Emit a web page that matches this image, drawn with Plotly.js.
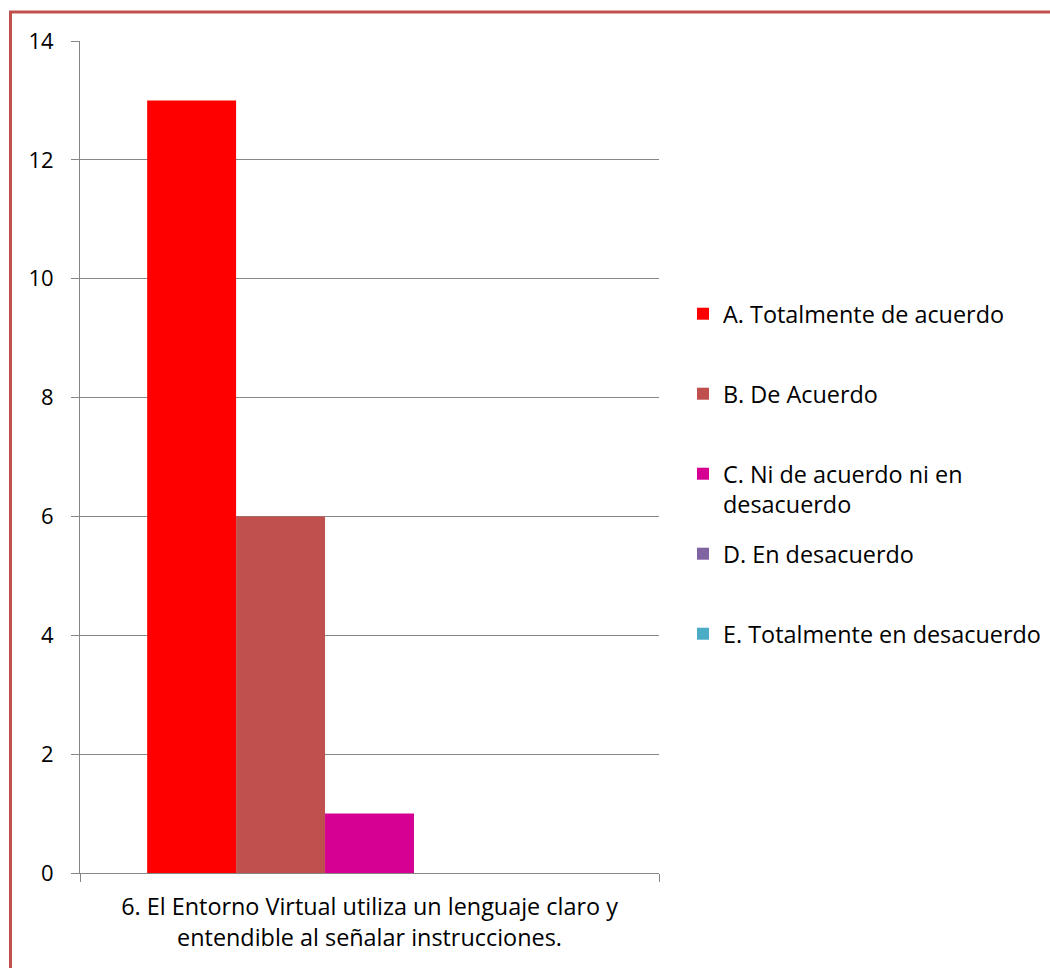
<!DOCTYPE html>
<html>
<head>
<meta charset="utf-8">
<script src="https://cdn.plot.ly/plotly-3.0.1.min.js"></script>
<style>html,body{margin:0;padding:0;background:#fff;}#chart{width:1050px;height:968px;}</style>
</head>
<body>
<div id="chart"></div>
<script>
const categories = ["6. El Entorno Virtual utiliza un lenguaje claro y<br>entendible al señalar instrucciones."];
const seriesNames = [
  "A. Totalmente de acuerdo",
  "B. De Acuerdo",
  "C. Ni de acuerdo ni en<br>desacuerdo",
  "D. En desacuerdo",
  "E. Totalmente en desacuerdo"
];
const seriesValues = [[13], [6], [1], [0], [0]];
const seriesColors = ["#FF0000", "#C0504D", "#D60093", "#8064A2", "#4BACC6"];
const yTicks = [0, 2, 4, 6, 8, 10, 12, 14];

const FONT = "'Open Sans', Lato, sans-serif";
const FS = 23.4;
const legendNames = ["legend", "legend2", "legend3", "legend4", "legend5"];
const legendCentersPx = [315, 395, 475, 555, 635];

const W = 1050, H = 968, L = 80, R = 391, T = 41, B = 95;
const plotW = W - L - R, plotH = H - T - B;

const traces = seriesNames.map((n, i) => ({
  type: "bar",
  name: n,
  x: categories,
  y: seriesValues[i],
  marker: {color: seriesColors[i]},
  legend: legendNames[i],
  hoverinfo: "name+y"
}));

const layout = {
  width: W, height: H,
  margin: {l: L, r: R, t: T, b: B, pad: 0, autoexpand: false},
  paper_bgcolor: "#fff", plot_bgcolor: "#fff",
  font: {family: FONT, size: FS, color: "#000"},
  barmode: "group",
  bargap: 0.232,
  bargroupgap: 0,
  xaxis: {
    type: "category",
    showline: true, linecolor: "#868686", linewidth: 1,
    ticks: "outside", tickson: "boundaries", ticklen: 8, tickcolor: "#868686",
    showgrid: false,
    ticklabelstandoff: 13,
    tickfont: {family: FONT, size: FS, color: "#000"},
    fixedrange: true
  },
  yaxis: {
    range: [0, 14],
    tickvals: yTicks,
    ticks: "outside", ticklen: 8, tickcolor: "#868686",
    showline: true, linecolor: "#868686", linewidth: 1,
    showgrid: true, gridcolor: "#868686", gridwidth: 1,
    zeroline: false,
    ticklabelstandoff: 13,
    tickfont: {family: FONT, size: 22, color: "#000"},
    fixedrange: true
  },
  shapes: [
    {type: "line", xref: "paper", yref: "paper",
     x0: (10.5 - L) / plotW, x1: (10.5 - L) / plotW,
     y0: 1 + (T - 12) / plotH, y1: (T + plotH - H - 5) / plotH,
     line: {color: "#C0504D", width: 3}},
    {type: "line", xref: "paper", yref: "paper",
     x0: (9 - L) / plotW, x1: (W + 5 - L) / plotW,
     y0: 1 + (T - 12) / plotH, y1: 1 + (T - 12) / plotH,
     line: {color: "#C0504D", width: 3}}
  ],
  showlegend: true
};

legendNames.forEach((ln, i) => {
  layout[ln] = {
    xref: "container", yref: "container",
    x: 683 / W,
    xanchor: "left",
    y: 1 - (legendCentersPx[i] - 23) / H,
    yanchor: "top",
    valign: "top",
    bgcolor: "rgba(0,0,0,0)",
    borderwidth: 0,
    font: {family: FONT, size: FS, color: "#000"}
  };
});

Plotly.newPlot("chart", traces, layout, {displayModeBar: false, staticPlot: true});
</script>
</body>
</html>
